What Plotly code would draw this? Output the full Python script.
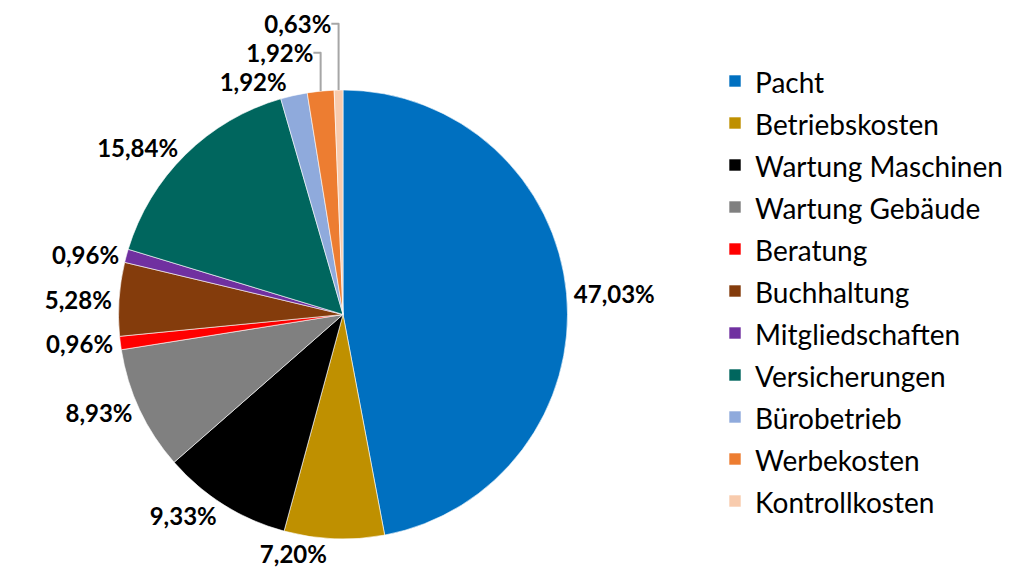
import plotly.graph_objects as go

categories = ["Pacht", "Betriebskosten", "Wartung Maschinen", "Wartung Gebäude",
              "Beratung", "Buchhaltung", "Mitgliedschaften", "Versicherungen",
              "Bürobetrieb", "Werbekosten", "Kontrollkosten"]
values = [47.03, 7.20, 9.33, 8.93, 0.96, 5.28, 0.96, 15.84, 1.92, 1.92, 0.63]
colors = ["#0070C0", "#BF9000", "#000000", "#808080", "#FF0000", "#843C0C",
          "#7030A0", "#00665E", "#8FAADC", "#ED7D31", "#F8CBAD"]

FONT = "Lato"
text_labels = [f"{v:.2f}".replace(".", ",") + "%" for v in values]
legend_labels = [f"<span style='font-size:28px'>{c}</span>" for c in categories]

fig = go.Figure(go.Pie(
    labels=legend_labels,
    values=values,
    text=text_labels,
    texttemplate="<span style='fill:#000000'><b>%{text}</b></span>",
    textposition="outside",
    outsidetextfont=dict(family=FONT, size=24, color="#A6A6A6"),
    marker=dict(colors=colors, line=dict(color="#FFFFFF", width=0.6)),
    sort=False,
    direction="clockwise",
    rotation=0,
    hoverinfo="skip",
    domain=dict(x=[0.1162, 0.5564], y=[0.0544, 0.8421]),
))

fig.update_layout(
    width=1020, height=570,
    margin=dict(l=0, r=0, t=0, b=0, autoexpand=False),
    paper_bgcolor="#FFFFFF",
    font=dict(family=FONT, color="#000000"),
    showlegend=True,
    legend=dict(
        x=0.701, y=0.9035, xanchor="left", yanchor="top",
        font=dict(family=FONT, size=30, color="#000000"),
        itemwidth=30,
        bgcolor="rgba(0,0,0,0)",
    ),
)

fig.write_html("out.html",
               config={"displayModeBar": False},
               post_script="document.body.style.margin='0';document.body.style.overflow='hidden';")
